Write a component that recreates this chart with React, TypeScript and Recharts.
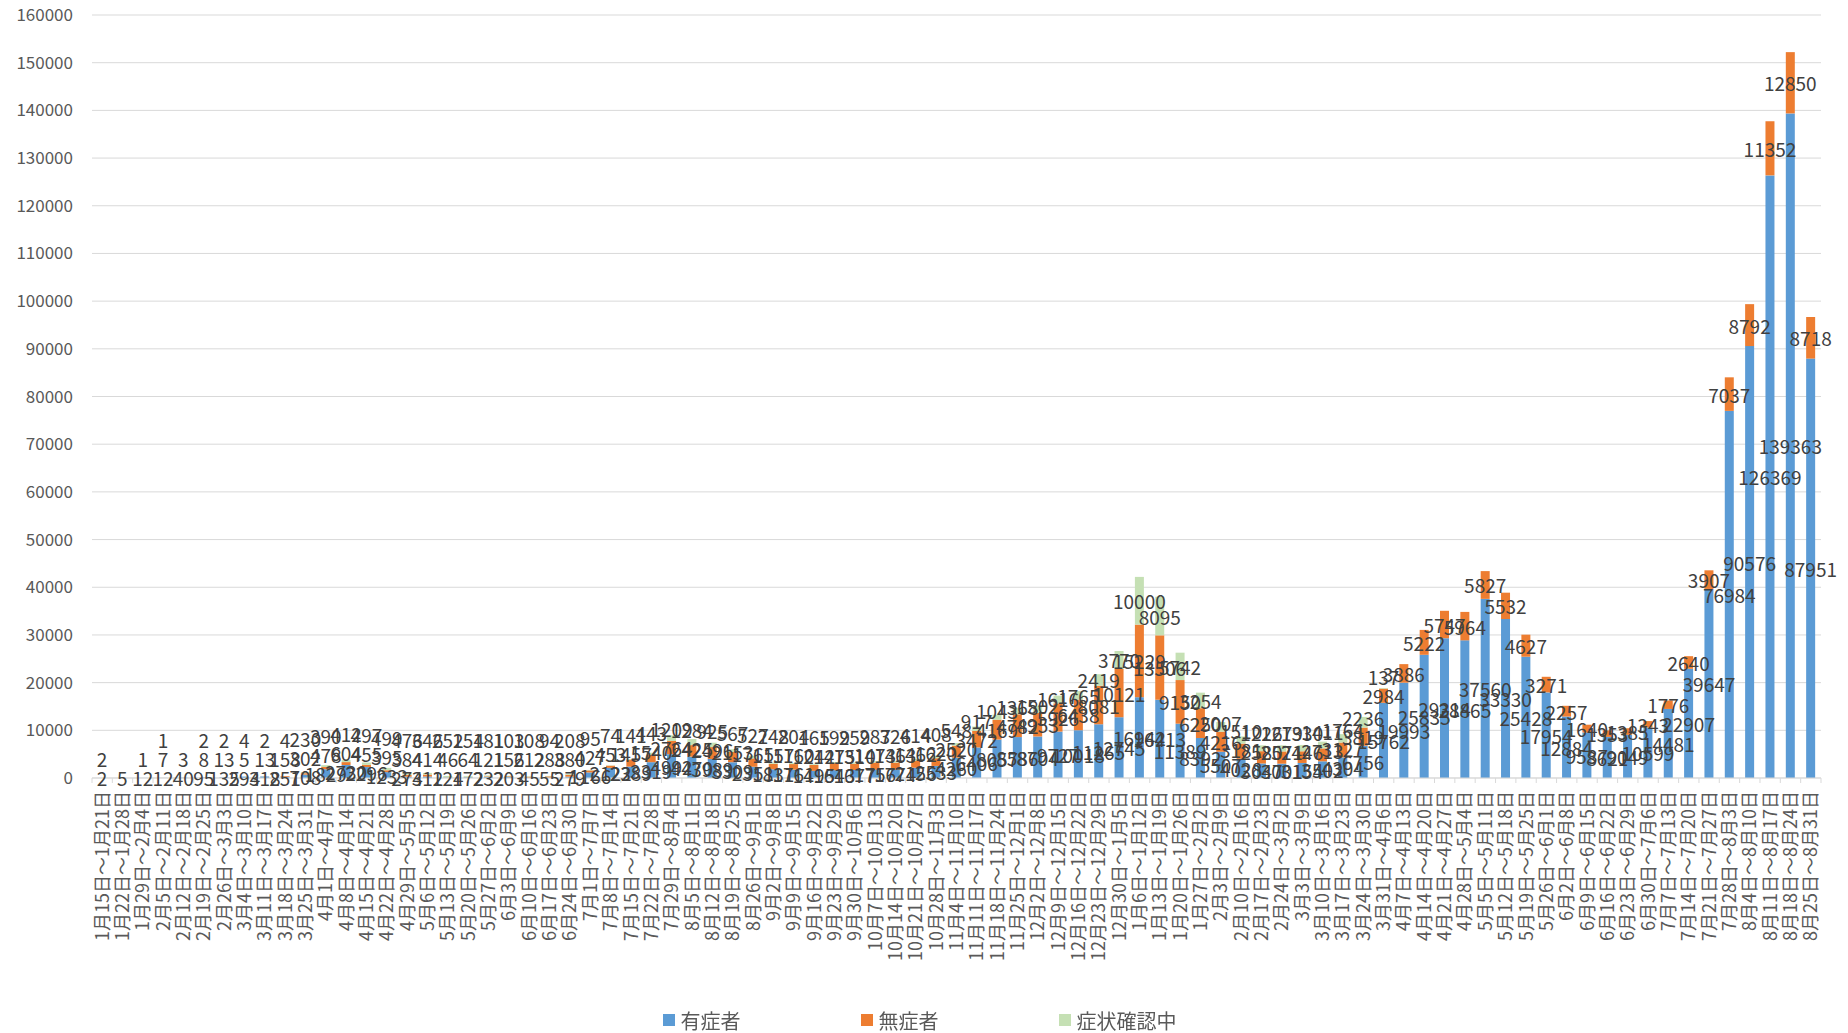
import React from 'react';
import { BarChart, Bar, XAxis, YAxis, CartesianGrid, Legend, LabelList } from 'recharts';

const weeks = [
  '1月15日～1月21日', '1月22日～1月28日', '1月29日～2月4日', '2月5日～2月11日', '2月12日～2月18日',
  '2月19日～2月25日', '2月26日～3月3日', '3月4日～3月10日', '3月11日～3月17日', '3月18日～3月24日',
  '3月25日～3月31日', '4月1日～4月7日', '4月8日～4月14日', '4月15日～4月21日', '4月22日～4月28日',
  '4月29日～5月5日', '5月6日～5月12日', '5月13日～5月19日', '5月20日～5月26日', '5月27日～6月2日',
  '6月3日～6月9日', '6月10日～6月16日', '6月17日～6月23日', '6月24日～6月30日', '7月1日～7月7日',
  '7月8日～7月14日', '7月15日～7月21日', '7月22日～7月28日', '7月29日～8月4日', '8月5日～8月11日',
  '8月12日～8月18日', '8月19日～8月25日', '8月26日～9月1日', '9月2日～9月8日', '9月9日～9月15日',
  '9月16日～9月22日', '9月23日～9月29日', '9月30日～10月6日', '10月7日～10月13日', '10月14日～10月20日',
  '10月21日～10月27日', '10月28日～11月3日', '11月4日～11月10日', '11月11日～11月17日', '11月18日～11月24日',
  '11月25日～12月1日', '12月2日～12月8日', '12月9日～12月15日', '12月16日～12月22日', '12月23日～12月29日',
  '12月30日～1月5日', '1月6日～1月12日', '1月13日～1月19日', '1月20日～1月26日', '1月27日～2月2日',
  '2月3日～2月9日', '2月10日～2月16日', '2月17日～2月23日', '2月24日～3月2日', '3月3日～3月9日',
  '3月10日～3月16日', '3月17日～3月23日', '3月24日～3月30日', '3月31日～4月6日', '4月7日～4月13日',
  '4月14日～4月20日', '4月21日～4月27日', '4月28日～5月4日', '5月5日～5月11日', '5月12日～5月18日',
  '5月19日～5月25日', '5月26日～6月1日', '6月2日～6月8日', '6月9日～6月15日', '6月16日～6月22日',
  '6月23日～6月29日', '6月30日～7月6日', '7月7日～7月13日', '7月14日～7月20日', '7月21日～7月27日',
  '7月28日～8月3日', '8月4日～8月10日', '8月11日～8月17日', '8月18日～8月24日', '8月25日～8月31日',
];

// 有症者
const symptomatic = [
  2, 5, 12, 12, 40, 95, 135, 294, 318, 251,
  708, 1829, 2730, 2296, 1233, 274, 312, 124, 172, 232,
  203, 45, 55, 279, 1166, 2122, 2389, 3319, 4992, 4470,
  3989, 3309, 2351, 1831, 1761, 1495, 1643, 1677, 1756, 1774,
  2156, 2533, 4260, 6406, 8057, 8586, 8704, 9727, 10018, 11265,
  12745, 16942, 16413, 11389, 8392, 5507, 4028, 3047, 3001, 3154,
  3502, 4304, 6756, 15762, 19993, 25835, 29314, 28865, 37560, 33330,
  25428, 17954, 12884, 9537, 8621, 9049, 10599, 14481, 22907, 39647,
  76984, 90576, 126369, 139363, 87951,
];

// 無症者
const asymptomatic = [
  2, null, 1, 7, 3, 8, 13, 5, 13, 158,
  302, 478, 604, 455, 395, 384, 414, 46, 64, 121,
  156, 212, 288, 380, 427, 453, 1457, 1540, 2764, 2425,
  2496, 2153, 1765, 1157, 1160, 1242, 1475, 1310, 1473, 1463,
  1462, 1620, 2520, 3472, 4169, 4782, 4953, 5926, 6438, 8081,
  10121, 15229, 13506, 9150, 6250, 4216, 3181, 2580, 2571, 2446,
  2713, 3127, 3819, 2984, 3886, 5222, 5747, 5964, 5827, 5532,
  4627, 3271, 2257, 1640, 1353, 1385, 1343, 1776, 2640, 3907,
  7037, 8792, 11352, 12850, 8718,
];

// 症状確認中
const checking = [
  null, null, null, 1, null, 2, 2, 4, 2, 4,
  230, 390, 412, 497, 499, 476, 346, 252, 154, 181,
  103, 108, 94, 208, 95, 74, 141, 443, 1209, 1284,
  925, 567, 527, 248, 204, 165, 199, 259, 287, 326,
  414, 408, 548, 917, 1043, 1368, 1502, 1616, 1765, 2419,
  3770, 10000, 8095, 5742, 3254, 2007, 1510, 1226, 1279, 1330,
  1411, 1764, 2236, 137, null, null, null, null, null, null,
  null, null, null, null, null, null, null, null, null, null,
  null, null, null, null, null,
];

const yTicks = [0, 10000, 20000, 30000, 40000, 50000, 60000, 70000, 80000, 90000,
  100000, 110000, 120000, 130000, 140000, 150000, 160000];

const W = 1848;
const H = 1033;
const M = { top: 15, right: 27, left: 0, bottom: 0 };
const Y_W = 92;
const X_H = 229;
const LEG_H = 26;
const Y_MAX = 160000;
const STEP = (W - M.left - M.right - Y_W) / weeks.length;
const FONT = '"Noto Sans CJK JP", "Noto Sans", sans-serif';
const GRID = '#D9D9D9';
const TEXT = '#595959';
const LABEL = '#404040';
const BLUE = '#5B9BD5';
const ORANGE = '#ED7D31';
const GREEN = '#C5E0B4';

const data = weeks.map((w, i) => ({
  week: w,
  sym: symptomatic[i],
  asym: asymptomatic[i] ?? 0,
  chk: checking[i] ?? 0,
}));

// draws the three segment labels of one column from the 有症者 segment, nudged apart when they collide
const StackLabels = (props: any) => {
  const vb = props.viewBox ?? props;
  if (vb == null || vb.x == null) return null;
  const cx = vb.x + vb.width / 2;
  const i = Math.round((cx - M.left - Y_W) / STEP - 0.5);
  if (i < 0 || i >= weeks.length) return null;
  const b = symptomatic[i] ?? 0;
  const o = asymptomatic[i];
  const g = checking[i];
  const base = vb.y + vb.height;
  const ppu = (base - M.top) / Y_MAX;
  const gap = 19;
  const out: { v: number; y: number }[] = [];
  let last = base - (b / 2) * ppu;
  out.push({ v: b, y: last });
  if (o != null) {
    last = Math.min(base - (b + o / 2) * ppu, last - gap);
    out.push({ v: o, y: last });
  }
  if (g != null) {
    last = Math.min(base - (b + (o ?? 0) + g / 2) * ppu, last - gap);
    out.push({ v: g, y: last });
  }
  return (
    <g>
      {out.map((l, k) => (
        <text key={k} x={cx} y={l.y} textAnchor="middle" dominantBaseline="central"
          fontFamily={FONT} fontSize={19} fill={LABEL}>{l.v}</text>
      ))}
    </g>
  );
};

const WeekTick = ({ x, y, payload, index }: any) => {
  const left = x - STEP / 2;
  return (
    <g>
      <line x1={left} y1={y} x2={left} y2={y + 5} stroke={GRID} />
      {index === weeks.length - 1 && <line x1={x + STEP / 2} y1={y} x2={x + STEP / 2} y2={y + 5} stroke={GRID} />}
      <text x={x} y={y + 13} dy="0.36em" textAnchor="end" transform={`rotate(-90, ${x}, ${y + 13})`}
        fontFamily={FONT} fontSize={18} fill={TEXT}>{payload.value}</text>
    </g>
  );
};

const legendItems = [
  { name: '有症者', color: BLUE },
  { name: '無症者', color: ORANGE },
  { name: '症状確認中', color: GREEN },
];

const LegendBox = () => (
  <div style={{ display: 'flex', justifyContent: 'center', alignItems: 'center', gap: 120, height: LEG_H,
    fontFamily: FONT, fontSize: 20, color: TEXT, paddingLeft: 18 }}>
    {legendItems.map((it) => (
      <div key={it.name} style={{ display: 'flex', alignItems: 'center', gap: 6 }}>
        <span style={{ width: 12, height: 12, background: it.color, display: 'inline-block' }} />
        <span>{it.name}</span>
      </div>
    ))}
  </div>
);

export default function App() {
  return (
    <div style={{ position: 'fixed', left: 0, top: 0, width: W, height: H, background: '#fff' }}>
      <BarChart width={W} height={H} data={data} margin={M} barCategoryGap="27%">
        <CartesianGrid vertical={false} stroke={GRID} />
        <XAxis dataKey="week" interval={0} height={X_H} tickSize={0} tickMargin={0}
          axisLine={{ stroke: GRID }} tickLine={false} tick={<WeekTick />} />
        <YAxis width={Y_W} domain={[0, Y_MAX]} ticks={yTicks} interval={0} axisLine={false} tickLine={false}
          tickMargin={13} tick={{ fill: TEXT, fontSize: 17, fontFamily: FONT }} />
        <Legend verticalAlign="bottom" height={LEG_H} content={<LegendBox />} />
        <Bar dataKey="sym" name="有症者" stackId="a" fill={BLUE} isAnimationActive={false}>
          <LabelList dataKey="sym" content={<StackLabels />} />
        </Bar>
        <Bar dataKey="asym" name="無症者" stackId="a" fill={ORANGE} isAnimationActive={false} />
        <Bar dataKey="chk" name="症状確認中" stackId="a" fill={GREEN} isAnimationActive={false} />
      </BarChart>
    </div>
  );
}
